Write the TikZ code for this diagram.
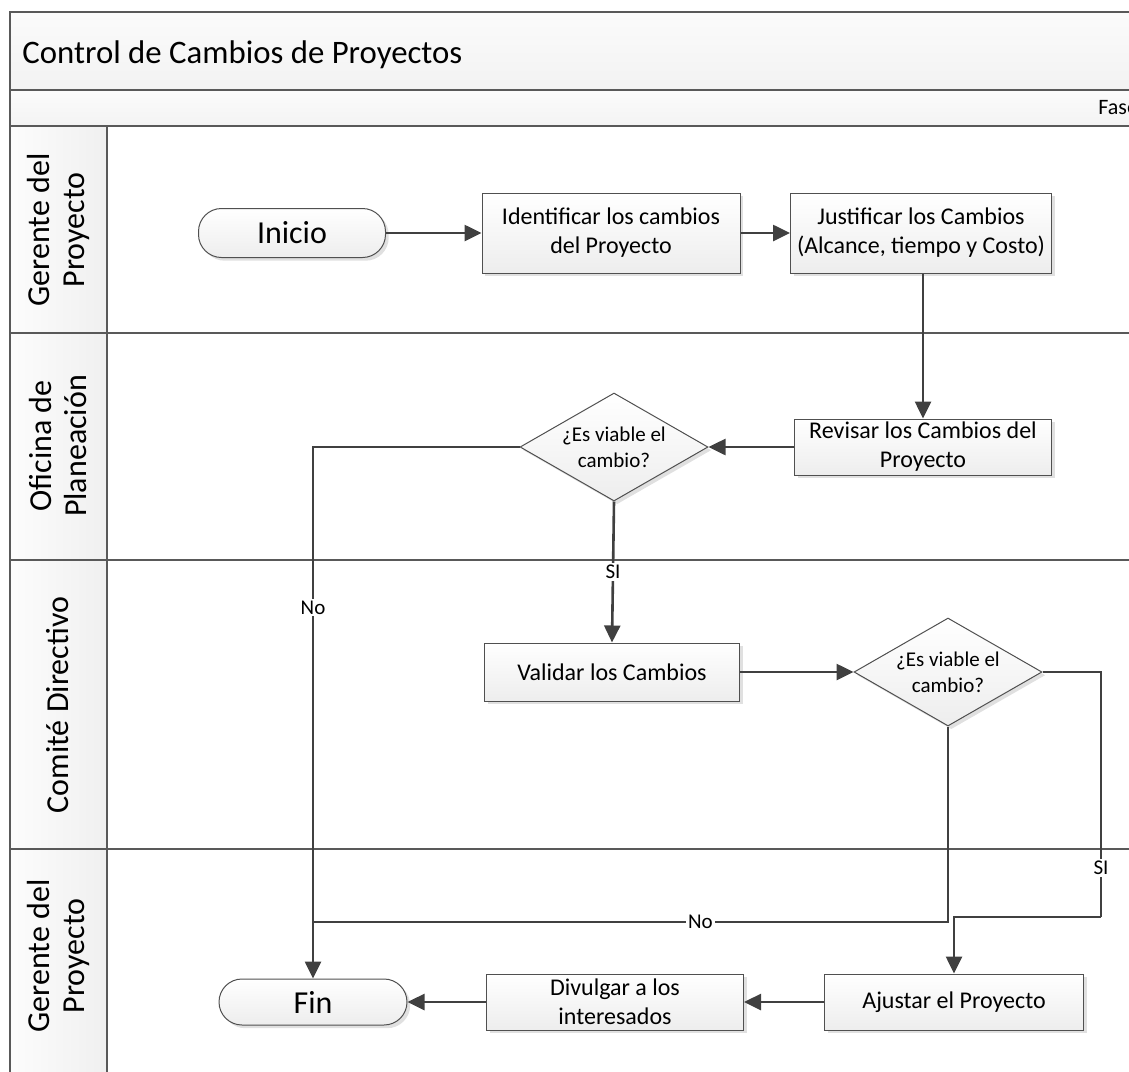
\documentclass[tikz,border=0pt]{standalone}
\usepackage{fontspec}
\setmainfont{Carlito}
\usetikzlibrary{shapes.geometric,shadows,arrows.meta,calc}
\definecolor{linec}{HTML}{404040}
\definecolor{boxc}{HTML}{505050}
\definecolor{framec}{HTML}{595959}
\begin{document}
\begin{tikzpicture}[x=0.5pt,y=-0.5pt,
  conn/.style={draw=linec,line width=1.3pt},
  arr/.style={conn,-{Triangle[length=8.5pt,width=8pt]}},
  shad/.style={drop shadow={shadow xshift=1.6pt,shadow yshift=-1.6pt,fill=gray!45,opacity=0.55}},
  proc/.style={draw=boxc,line width=0.5pt,top color=white,bottom color=gray!14,shad,
    align=center,font=\fontsize{12}{14.5}\selectfont,inner sep=0pt},
  term/.style={draw=boxc,line width=0.5pt,top color=white,bottom color=gray!14,shad,
    rounded corners=11.5pt,font=\fontsize{16}{18}\selectfont,inner sep=0pt},
  dia/.style={diamond,draw=boxc,line width=0.5pt,top color=white,bottom color=gray!14,shad,
    minimum width=94pt,minimum height=54pt,inner sep=0pt},
  dtext/.style={align=center,font=\fontsize{10.5}{13}\selectfont,inner sep=0pt},
  lbl/.style={fill=white,inner sep=1pt,font=\fontsize{10.5}{12}\selectfont},
  lane/.style={rotate=90,align=center,font=\fontsize{16}{17.5}\selectfont},
  band/.style={draw=framec,line width=1pt}
]
\useasboundingbox (0,0) rectangle (1129,1071);
\begin{scope}
\clip (0,0) rectangle (1129,1071);
% title band
\path[top color=gray!3,bottom color=gray!10] (10,12) rectangle (1150,90);
\path[top color=gray!3,bottom color=gray!9] (10,90) rectangle (1150,126);
\path[left color=gray!2,right color=gray!12] (10,126) rectangle (107,1090);
\draw[band] (10,1090) -- (10,12) -- (1150,12);
\draw[band] (10,90) -- (1150,90);
\draw[band] (10,126) -- (1150,126);
\draw[band] (107,126) -- (107,1090);
\draw[band] (10,333) -- (1150,333);
\draw[band] (10,560) -- (1150,560);
\draw[band] (10,849) -- (1150,849);
\node[anchor=west,font=\fontsize{16.4}{18}\selectfont,inner sep=0pt] (title) at (22,55) {Control de Cambios de Proyectos};
\node[anchor=west,font=\fontsize{11}{12}\selectfont,inner sep=0pt] (fase) at (1098,108) {Fase};
\end{scope}
% lane labels
\node[lane] (l1) at (58,230) {Gerente del\\Proyecto};
\node[lane] (l2) at (58,446) {Oficina de\\Planeación};
\node[lane] (l3) at (58,705) {Comité Directivo};
\node[lane] (l4) at (58,956) {Gerente del\\Proyecto};
% nodes
\node[term,minimum width=93.5pt,minimum height=24.5pt] (ini) at (292,233) {Inicio};
\node[proc,minimum width=129pt,minimum height=40pt] (idf) at (611,233) {Identificar los cambios\\del Proyecto};
\node[proc,minimum width=130.5pt,minimum height=40pt] (jus) at (921,233) {Justificar los Cambios\\(Alcance, tiempo y Costo)};
\node[proc,minimum width=128.5pt,minimum height=28pt] (rev) at (923,447) {Revisar los Cambios del\\Proyecto};
\node[dia] (d1) at (614,447) {};
\node[dtext] (d1t) at (d1) {¿Es viable el\\cambio?};
\node[proc,minimum width=127.5pt,minimum height=29pt] (val) at (612,672) {Validar los Cambios};
\node[dia] (d2) at (948,672) {};
\node[dtext] (d2t) at (d2) {¿Es viable el\\cambio?};
\node[proc,minimum width=129.5pt,minimum height=28pt] (aj) at (954,1002) {Ajustar el Proyecto};
\node[proc,minimum width=128.5pt,minimum height=28pt] (div) at (615,1002) {Divulgar a los\\interesados};
\node[term,minimum width=94pt,minimum height=23pt] (fin) at (313,1002) {Fin};
% connectors
\coordinate (j1) at (313,922);
\coordinate (c1) at (1101,672);
\coordinate (c2) at (1101,917);
\coordinate (c3) at (954,917);
\draw[arr] (ini.east) -- (idf.west);
\draw[arr] (idf.east) -- (jus.west);
\draw[arr] (rev.north |- jus.south) -- (rev.north);
\draw[arr] (rev.west) -- (d1.east);
\draw[arr] (d1.west) -| (fin.north) node[lbl,pos=0.651] {No};
\draw[arr] (d1.south) -- (val.north) node[lbl,pos=0.5] {SI};
\draw[arr] (val.east) -- (d2.west);
\draw[conn] (d2.south) |- (j1) node[lbl,pos=0.695] {No};
\draw[conn] (d2.east) -- (c1) -- (c2) node[lbl,pos=0.8] {SI};
\draw[arr] (c2) -- (c3) -- (aj.north);
\draw[arr] (aj.west) -- (div.east);
\draw[arr] (div.west) -- (fin.east);
\end{tikzpicture}
\end{document}
